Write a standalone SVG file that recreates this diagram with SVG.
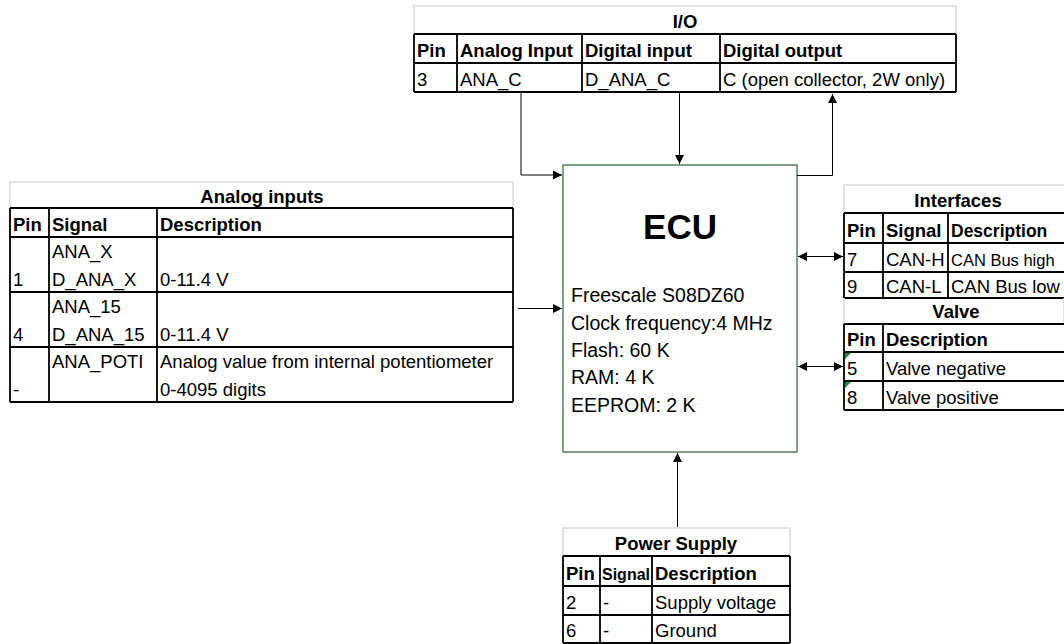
<svg xmlns="http://www.w3.org/2000/svg" width="1064" height="644" viewBox="0 0 1064 644">
<style>
text{font-family:"Liberation Sans",Arial,sans-serif;font-size:18.5px;fill:#000}
.b{font-weight:bold}
.c{text-anchor:middle}
.ttl{fill:#fff;stroke:#d9d9d9;stroke-width:1.5}
.g{stroke:#000;stroke-width:1.8;fill:none}
.con{stroke:#000;stroke-width:1;fill:none}
.ecu{fill:#fff;stroke:#3f6b4a;stroke-width:1.3}
.ecut{font-size:19.5px}
</style>
<defs>
<marker id="ah" viewBox="0 0 10 10" refX="10" refY="5" markerWidth="9" markerHeight="9" markerUnits="userSpaceOnUse" orient="auto-start-reverse">
<path d="M0,0 L10,5 L0,10 z" fill="#000"/>
</marker>
</defs>
<rect width="1064" height="644" fill="#fff"/>

<g id="io">
<rect class="ttl" x="414" y="6" width="542" height="28"/>
<path class="g" d="M414,34H956M414,63H956M414,92H956M414,34V92M457,34V92M582,34V92M720,34V92M956,34V92"/>
<text class="b c" x="685" y="28">I/O</text>
<text class="b" x="417" y="57">Pin</text>
<text class="b" x="460" y="57">Analog Input</text>
<text class="b" x="585" y="57">Digital input</text>
<text class="b" x="723" y="57">Digital output</text>
<text x="417" y="86">3</text>
<text x="460" y="86">ANA_C</text>
<text x="585" y="86">D_ANA_C</text>
<text x="723" y="86">C (open collector, 2W only)</text>
</g>

<g id="analog-inputs">
<rect class="ttl" x="10" y="182" width="503" height="26"/>
<path class="g" d="M10,208H513M10,237H513M10,292H513M10,347H513M10,402H513M10,208V402M49,208V402M157,208V402M513,208V402"/>
<text class="b c" x="262" y="203">Analog inputs</text>
<text class="b" x="13" y="231">Pin</text>
<text class="b" x="52" y="231">Signal</text>
<text class="b" x="160" y="231">Description</text>
<text x="52" y="258">ANA_X</text>
<text x="13" y="286">1</text>
<text x="52" y="286">D_ANA_X</text>
<text x="160" y="286">0-11.4 V</text>
<text x="52" y="313">ANA_15</text>
<text x="13" y="341">4</text>
<text x="52" y="341">D_ANA_15</text>
<text x="160" y="341">0-11.4 V</text>
<text x="52" y="368">ANA_POTI</text>
<text x="160" y="368">Analog value from internal potentiometer</text>
<text x="13" y="396">-</text>
<text x="160" y="396">0-4095 digits</text>
</g>

<g id="ecu">
<rect class="ecu" x="563" y="165" width="234" height="287"/>
<text class="b c" x="680" y="239" style="font-size:35px">ECU</text>
<text class="ecut" x="571" y="302">Freescale S08DZ60</text>
<text class="ecut" x="571" y="330">Clock frequency:4 MHz</text>
<text class="ecut" x="571" y="357">Flash: 60 K</text>
<text class="ecut" x="571" y="384">RAM: 4 K</text>
<text class="ecut" x="571" y="412">EEPROM: 2 K</text>
</g>

<g id="interfaces">
<rect class="ttl" x="844" y="185" width="230" height="28"/>
<path class="g" d="M844,213H1064M844,243H1064M844,272H1064M844,298H1064M844,213V298M883,213V298M948,213V298"/>
<text class="b c" x="958" y="207">Interfaces</text>
<text class="b" x="847" y="237">Pin</text>
<text class="b" x="886" y="237">Signal</text>
<text class="b" x="951" y="237" style="font-size:17.5px">Description</text>
<text x="847" y="266">7</text>
<text x="886" y="266">CAN-H</text>
<text x="951" y="266" style="font-size:16.5px">CAN Bus high</text>
<text x="847" y="293">9</text>
<text x="886" y="293">CAN-L</text>
<text x="951" y="293">CAN Bus low</text>
</g>

<g id="valve">
<path class="ttl" d="M844,298V324M1064,298V324"/>
<path class="g" d="M844,324H1064M844,352H1064M844,381H1064M844,410H1064M844,324V410M883,324V410"/>
<text class="b c" x="956" y="318">Valve</text>
<text class="b" x="847" y="346">Pin</text>
<text class="b" x="886" y="346">Description</text>
<text x="847" y="375">5</text>
<text x="886" y="375">Valve negative</text>
<text x="847" y="404">8</text>
<text x="886" y="404">Valve positive</text>
<path d="M845,353H851L845,359z M845,382H851L845,388z" fill="#1e8c3a"/>
</g>

<g id="power-supply">
<rect class="ttl" x="563" y="528" width="227" height="28"/>
<path class="g" d="M563,556H790M563,586H790M563,615H790M563,643H790M563,556V643M600,556V643M652,556V643M790,556V643"/>
<text class="b c" x="676" y="550">Power Supply</text>
<text class="b" x="566" y="580">Pin</text>
<text class="b" x="602" y="580" style="font-size:16px">Signal</text>
<text class="b" x="655" y="580">Description</text>
<text x="566" y="609">2</text>
<text x="603" y="609">-</text>
<text x="655" y="609">Supply voltage</text>
<text x="566" y="637">6</text>
<text x="603" y="637">-</text>
<text x="655" y="637">Ground</text>
</g>

<g id="connectors">
<path class="con" d="M521,93V175H562" marker-end="url(#ah)"/>
<path class="con" d="M679.5,93V164" marker-end="url(#ah)"/>
<path class="con" d="M797,175.5H832.5V94" marker-end="url(#ah)"/>
<path class="con" d="M518,308.5H562" marker-end="url(#ah)"/>
<path class="con" d="M798,256.5H843" marker-start="url(#ah)" marker-end="url(#ah)"/>
<path class="con" d="M798,366.5H843" marker-start="url(#ah)" marker-end="url(#ah)"/>
<path class="con" d="M677.5,527V453" marker-end="url(#ah)"/>
</g>
</svg>
